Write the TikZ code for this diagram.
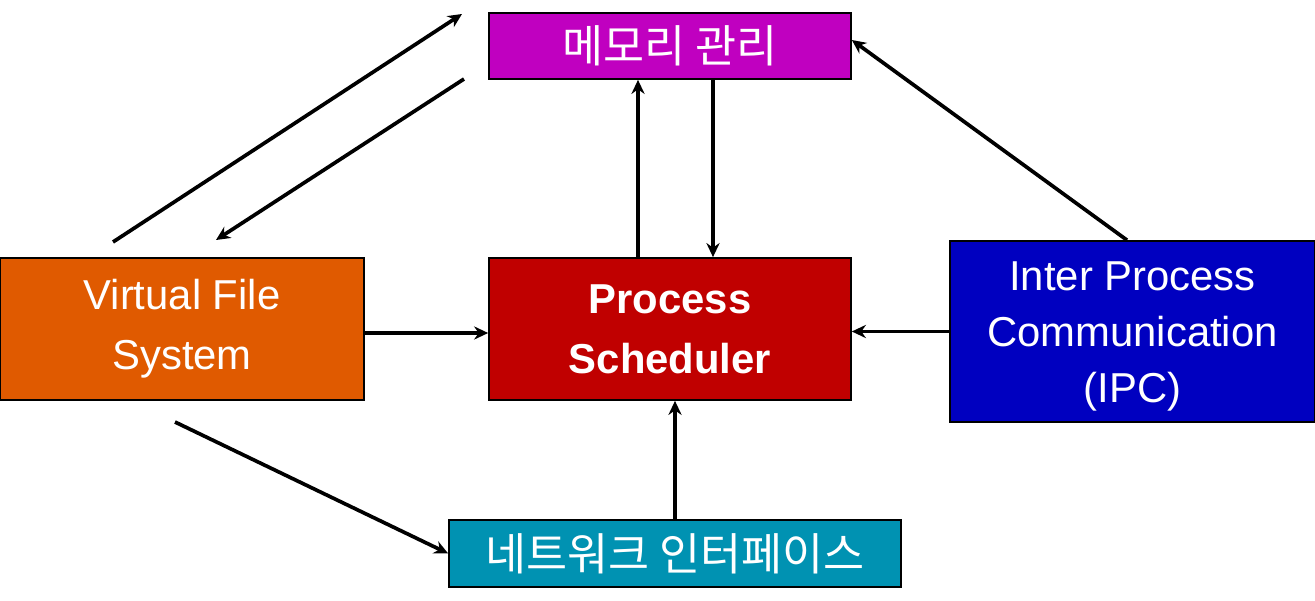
\documentclass[tikz,border=0pt]{standalone}
\usepackage{fontspec}
\setmainfont{Liberation Sans}
\newfontfamily\kr{Noto Sans CJK KR}
\usetikzlibrary{arrows.meta}
\definecolor{memc}{HTML}{C000C0}
\definecolor{vfsc}{HTML}{E05A00}
\definecolor{psc}{HTML}{C00000}
\definecolor{ipcc}{HTML}{0000C0}
\definecolor{netc}{HTML}{0092B2}
\begin{document}
\begin{tikzpicture}[x=0.02cm,y=-0.02cm,
  box/.style={draw=black,line width=1pt,text=white,align=center,inner sep=0pt,
    font=\fontsize{23.8}{34}\selectfont},
  krbox/.style={box,font=\kr\fontsize{25.4}{28}\selectfont},
  arr/.style={line width=2.1pt,-{Stealth[length=8pt,width=7.5pt]}}]
\useasboundingbox (0,0) rectangle (1315,601);
\node[krbox,fill=memc,minimum width=7.24cm,minimum height=1.32cm] (mem) at (670,46) {메모리 관리};
\node[box,fill=vfsc,minimum width=7.28cm,minimum height=2.84cm] (vfs) at (182,329) {Virtual File\\System};
\node[box,fill=psc,minimum width=7.24cm,minimum height=2.84cm,font=\bfseries\fontsize{23.8}{34}\selectfont] (ps) at (670,329) {Process\\Scheduler};
\node[box,fill=ipcc,minimum width=7.3cm,minimum height=3.62cm,font=\fontsize{23.8}{31.7}\selectfont] (ipc) at (1132.5,331.5) {\rule{0pt}{22pt}Inter Process\\Communication\\(IPC)};
\node[krbox,fill=netc,minimum width=9.04cm,minimum height=1.34cm] (net) at (675,553.5) {네트워크 인터페이스};
% free ends
\coordinate (a1s) at (113,242);
\coordinate (a1e) at (462,14);
\coordinate (a2s) at (464,79);
\coordinate (a2e) at (216,240);
\coordinate (a3s) at (175,422);
\coordinate (xl) at (638,0);
\coordinate (xr) at (713,0);
\coordinate (yv) at (0,333);
\coordinate (ym) at (0,40);
\coordinate (xi) at (1127,0);
% connectors
\draw[arr] (a1s) -- (a1e);
\draw[arr] (a2s) -- (a2e);
\draw[arr] (ps.north -| xl) -- (mem.south -| xl);
\draw[arr] (mem.south -| xr) -- (ps.north -| xr);
\draw[arr] (ipc.north -| xi) -- (mem.east |- ym);
\draw[arr] (vfs.east |- yv) -- (ps.west |- yv);
\draw[arr] (ipc.west) -- (ps.east |- ipc.west);
\draw[arr] (net.north) -- (ps.south -| net.north);
\draw[arr] (a3s) -- (net.west);
\end{tikzpicture}
\end{document}
